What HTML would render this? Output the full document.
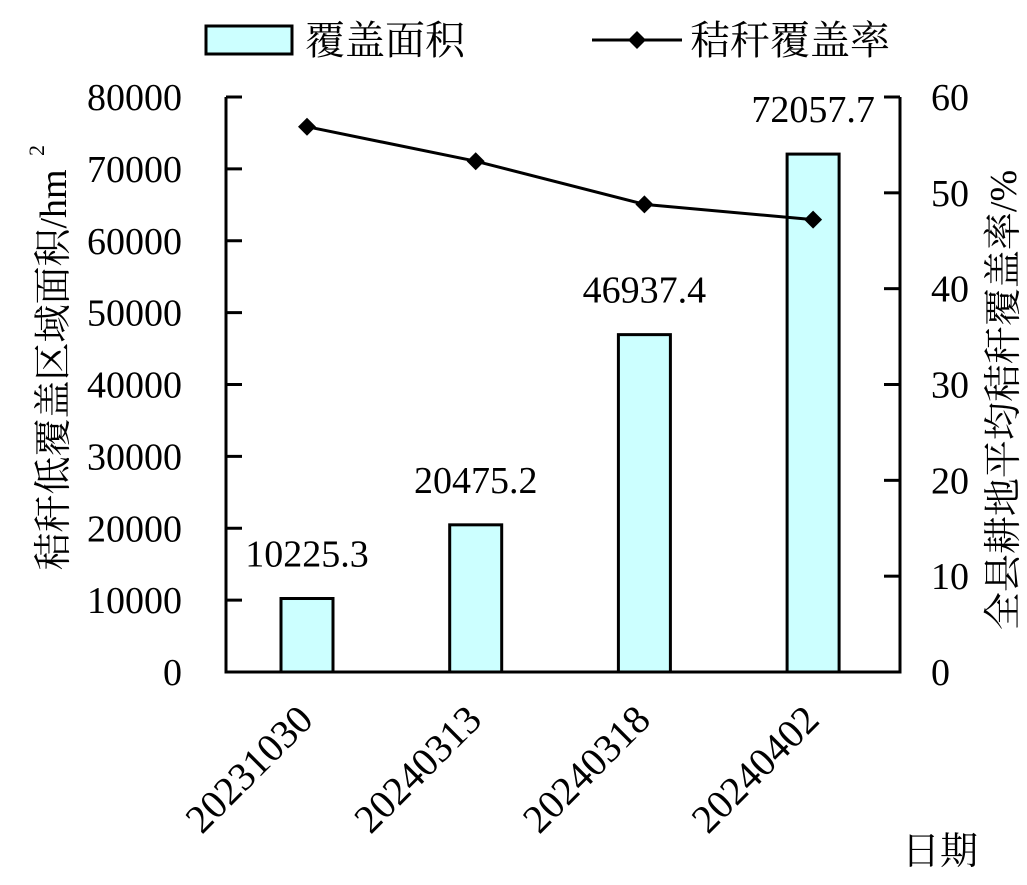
<!DOCTYPE html>
<html><head><meta charset="utf-8"><style>
body{margin:0;background:#fff}
svg text{font-family:"Liberation Serif","Noto Serif CJK SC",serif;fill:#000}
</style></head><body>
<svg id="c" width="1027" height="880" xmlns="http://www.w3.org/2000/svg">
<g id="g"></g>
</svg>
<script>
const categories=["20231030","20240313","20240318","20240402"];
const areaValues=[10225.3,20475.2,46937.4,72057.7];
const areaLabels=["10225.3","20475.2","46937.4","72057.7"];
const rateValues=[56.9,53.3,48.8,47.2];
const leftTicks=[0,10000,20000,30000,40000,50000,60000,70000,80000];
const rightTicks=[0,10,20,30,40,50,60];
const L=226,R=900,T=97,B=672;
const yL=v=>B-(v/80000)*(B-T);
const yR=v=>B-(v/60)*(B-T);
const xC=i=>307+i*168.7;
const NS="http://www.w3.org/2000/svg";
const g=document.getElementById('g');
function mk(tag,at,txt){const e=document.createElementNS(NS,tag);for(const k in at)e.setAttribute(k,at[k]);if(txt!==undefined)e.textContent=txt;g.appendChild(e);return e;}
areaValues.forEach((v,i)=>{
 const b=mk('rect',{x:xC(i)-26,y:yL(v),width:52,height:B-yL(v),fill:'#ccffff',stroke:'#000','stroke-width':3});
 
 
 const t=mk('text',{x:xC(i),y:yL(v)-32,'font-size':38,'text-anchor':'middle'},areaLabels[i]);
 
 
});
const ax=mk('path',{d:`M${L},${T}V${B}H${R}V${T}`,fill:'none',stroke:'#000','stroke-width':3});


leftTicks.forEach(v=>{
 const y=yL(v);
 mk('line',{x1:L,x2:L+16,y1:y,y2:y,stroke:'#000','stroke-width':3});
 const t=mk('text',{x:L-44,y:y+13,'font-size':38,'text-anchor':'end'},String(v));
 
 
});
rightTicks.forEach(v=>{
 const y=yR(v);
 mk('line',{x1:R-16,x2:R,y1:y,y2:y,stroke:'#000','stroke-width':3});
 const t=mk('text',{x:931,y:y+13,'font-size':38},String(v));
 
 
});
categories.forEach((c,i)=>{
 const t=mk('text',{x:0,y:0,'font-size':40,'text-anchor':'end',transform:`translate(${xC(i)+8},${722}) rotate(-45)`},c);
 
 
});
const pts=rateValues.map((v,i)=>xC(i)+','+yR(v)).join(' ');
const pl=mk('polyline',{points:pts,fill:'none',stroke:'#000','stroke-width':3});


rateValues.forEach((v,i)=>{
 const x=xC(i),y=yR(v);
 const p=mk('path',{d:`M${x},${y-9}L${x+9},${y}L${x},${y+9}L${x-9},${y}Z`,fill:'#000'});
 
 
});
let t=mk('text',{x:0,y:0,'font-size':38,'text-anchor':'middle',transform:'translate(66,370) rotate(-90)'},'秸秆低覆盖区域面积/hm');


mk('text',{x:0,y:0,'font-size':22,transform:'translate(44,156) rotate(-90)'},'2');
t=mk('text',{x:0,y:0,'font-size':38,'text-anchor':'middle',transform:'translate(1016,400) rotate(-90)'},'全县耕地平均秸秆覆盖率/%');


t=mk('text',{x:940,y:864,'font-size':38,'text-anchor':'middle'},'日期');


let r=mk('rect',{x:206,y:26,width:86,height:28,fill:'#ccffff',stroke:'#000','stroke-width':3});


t=mk('text',{x:305,y:54,'font-size':40},'覆盖面积');


mk('line',{x1:592,x2:682,y1:40,y2:40,stroke:'#000','stroke-width':3});
mk('path',{d:'M637,31L646,40L637,49L628,40Z',fill:'#000'});
t=mk('text',{x:690,y:54,'font-size':40},'秸秆覆盖率');


</script>
</body></html>
